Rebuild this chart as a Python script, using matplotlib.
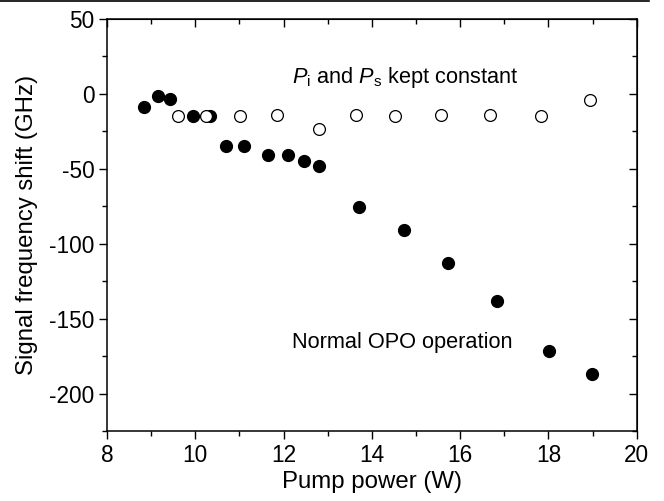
import matplotlib.pyplot as plt
from matplotlib.ticker import MultipleLocator
from matplotlib.lines import Line2D

plt.rcParams['font.family'] = ['Liberation Sans', 'DejaVu Sans']
plt.rcParams['axes.unicode_minus'] = False
plt.rcParams['mathtext.fontset'] = 'custom'
plt.rcParams['mathtext.it'] = 'Liberation Sans:italic'
plt.rcParams['mathtext.rm'] = 'Liberation Sans'

# Normal OPO operation (filled circles)
normal_power = [8.83, 9.15, 9.43, 9.96, 10.33, 10.70, 11.10, 11.64, 12.10, 12.46, 12.80,
                13.71, 14.73, 15.72, 16.83, 18.02, 18.98]
normal_shift = [-8.6, -1.1, -3.5, -14.6, -14.6, -34.5, -35.0, -40.7, -40.7, -44.5, -47.8,
                -75.5, -91.0, -113.0, -138.0, -171.5, -187.0]

# Pi and Ps kept constant (open circles)
const_power = [9.60, 10.24, 11.02, 11.86, 12.80, 13.64, 14.52, 15.57, 16.67, 17.84, 18.94]
const_shift = [-15.0, -15.0, -14.6, -14.0, -23.5, -14.0, -14.6, -14.0, -14.0, -14.6, -4.2]

fig = plt.figure(figsize=(6.64, 5.01), dpi=100)
ax = fig.add_axes([0.161, 0.1397, 0.798, 0.8224])

ax.plot(normal_power, normal_shift, 'o', color='black', markersize=8.5, zorder=3)
ax.plot(const_power, const_shift, 'o', markerfacecolor='white', markeredgecolor='black',
        markeredgewidth=0.9, markersize=8.5, zorder=4)

ax.set_xlim(8, 20)
ax.set_ylim(-225, 50)
ax.xaxis.set_major_locator(MultipleLocator(2))
ax.xaxis.set_minor_locator(MultipleLocator(1))
ax.yaxis.set_major_locator(MultipleLocator(50))
ax.yaxis.set_minor_locator(MultipleLocator(25))
ax.tick_params(which='both', direction='out', labelsize=16.3, width=1)
ax.tick_params(which='major', length=6, pad=3)
ax.tick_params(which='minor', length=3.5)
for s in ax.spines.values():
    s.set_linewidth(1.1)

# inward ticks on top and right
top = ax.secondary_xaxis('top')
top.xaxis.set_major_locator(MultipleLocator(2))
top.xaxis.set_minor_locator(MultipleLocator(1))
top.tick_params(which='both', direction='in', labeltop=False, width=1)
top.tick_params(which='major', length=6)
top.tick_params(which='minor', length=3.5)
right = ax.secondary_yaxis('right')
right.yaxis.set_major_locator(MultipleLocator(50))
right.yaxis.set_minor_locator(MultipleLocator(25))
right.tick_params(which='both', direction='in', labelright=False, width=1)
right.tick_params(which='major', length=6)
right.tick_params(which='minor', length=3.5)

ax.set_xlabel('Pump power (W)', fontsize=17.3, labelpad=3)
ax.set_ylabel('Signal frequency shift (GHz)', fontsize=17.3, labelpad=8)

ax.text(12.2, 11, r'$P_\mathrm{i}$ and $P_\mathrm{s}$ kept constant', fontsize=15.7,
        ha='left', va='center')
ax.text(12.2, -166, 'Normal OPO operation', fontsize=15.7, ha='left', va='center')

# thin page border at the top
fig.add_artist(Line2D([0, 649 / 664], [0.998, 0.998], color='black', linewidth=1.2))

fig.savefig('out.png', dpi=100)
